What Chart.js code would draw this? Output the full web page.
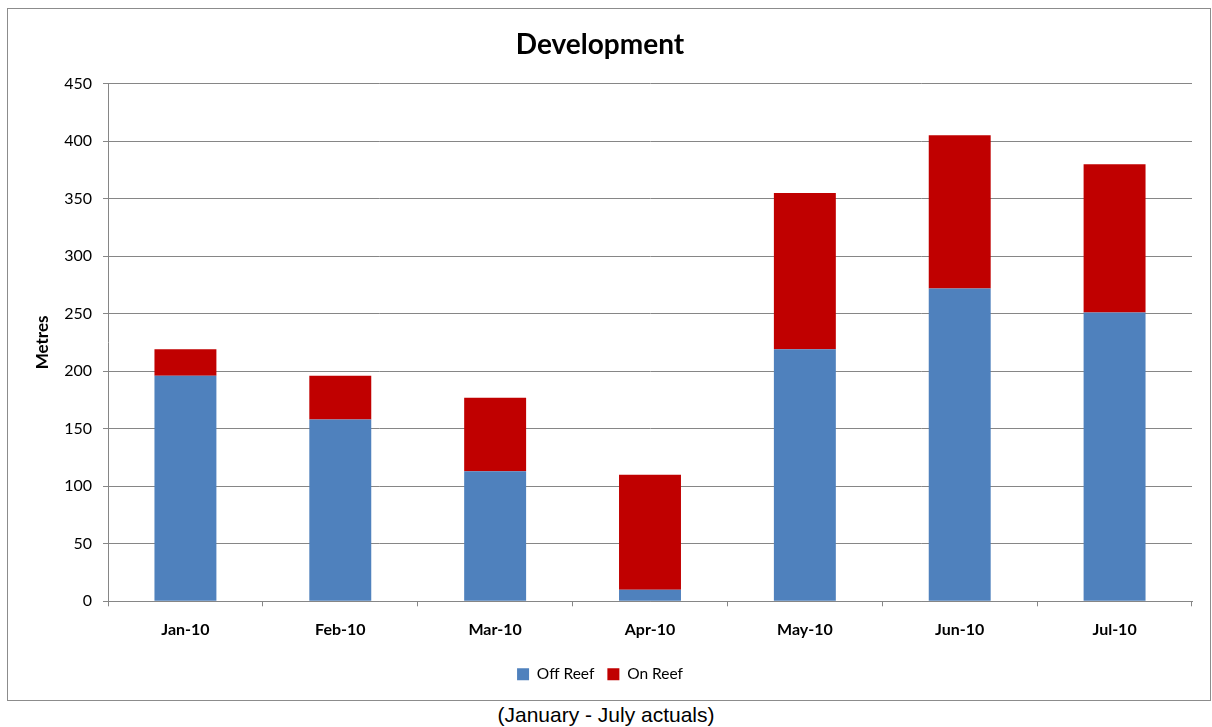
<!DOCTYPE html>
<html lang="en">
<head>
    <meta charset="utf-8" />
    <title>Development</title>
    <script src="https://cdn.jsdelivr.net/npm/chart.js@4.4.0/dist/chart.umd.min.js"></script>
    <style>
        body { margin: 0; background: #fff; width: 1212px; height: 727px; position: relative; overflow: hidden; }
        #box { position: absolute; left: 7px; top: 8px; width: 1202px; height: 691px; border: 1px solid #8c8c8c; }
        #caption { position: absolute; left: 0; top: 703px; width: 1212px; text-align: center;
                   font-family: "Liberation Sans", Arial, sans-serif; font-size: 21px; color: #000; }
    </style>
</head>
<body>
    <div id="box"><canvas id="chart" width="1202" height="691"></canvas></div>
    <div id="caption">(January - July actuals)</div>
    <script>
        const months = ['Jan-10', 'Feb-10', 'Mar-10', 'Apr-10', 'May-10', 'Jun-10', 'Jul-10'];
        const offReef = [196, 158, 113, 10, 219, 272, 251];
        const onReef = [23, 38, 64, 100, 136, 133, 129];

        const font = 'Lato, Carlito, sans-serif';

        new Chart(document.getElementById('chart'), {
            type: 'bar',
            data: {
                labels: months,
                datasets: [
                    { label: 'Off Reef', data: offReef, backgroundColor: '#4f81bd', barPercentage: 0.4, categoryPercentage: 1 },
                    { label: 'On Reef', data: onReef, backgroundColor: '#c00000', barPercentage: 0.4, categoryPercentage: 1 }
                ]
            },
            options: {
                responsive: false,
                animation: false,
                layout: { padding: { left: 0, right: 18, top: 0, bottom: 8 } },
                plugins: {
                    title: {
                        display: true,
                        text: 'Development',
                        color: '#000',
                        font: { family: font, size: 28, weight: 'bold' },
                        padding: { top: 19, bottom: 22 }
                    },
                    legend: {
                        position: 'bottom',
                        labels: {
                            color: '#000',
                            font: { family: font, size: 15.5 },
                            boxWidth: 12,
                            boxHeight: 12,
                            padding: 13
                        }
                    },
                    tooltip: { enabled: false }
                },
                scales: {
                    x: {
                        stacked: true,
                        grid: { offset: true, drawOnChartArea: false, color: '#868686', tickLength: 5 },
                        border: { color: '#868686' },
                        ticks: { color: '#000', font: { family: font, size: 16, weight: 'bold' }, padding: 14 }
                    },
                    y: {
                        stacked: true,
                        min: 0,
                        max: 450,
                        afterFit: (scale) => { scale.width = 100; },
                        grid: { color: '#868686', tickLength: 5 },
                        border: { color: '#868686' },
                        ticks: { stepSize: 50, color: '#000', font: { family: font, size: 16 }, padding: 11 },
                        title: {
                            display: true,
                            text: 'Metres',
                            color: '#000',
                            font: { family: font, size: 17, weight: 'bold' },
                            padding: { top: 24, bottom: 0 }
                        }
                    }
                }
            }
        });
    </script>
</body>
</html>
